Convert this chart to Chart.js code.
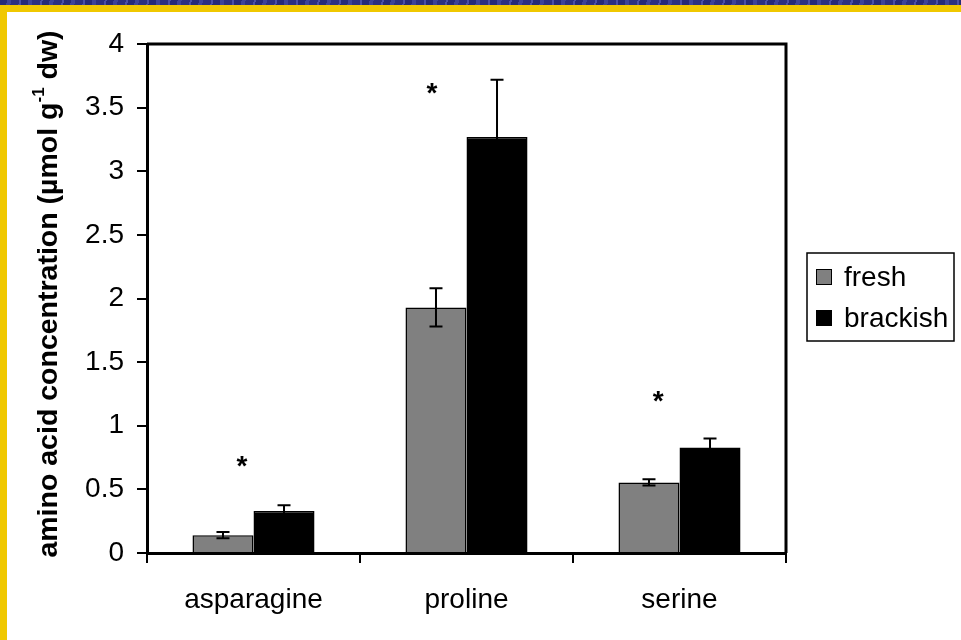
<!DOCTYPE html>
<html>
<head>
<meta charset="utf-8">
<script src="https://cdn.jsdelivr.net/npm/chart.js@4/dist/chart.umd.min.js"></script>
<style>
  html, body { margin: 0; padding: 0; width: 961px; height: 640px; overflow: hidden; }
  body {
    background: repeating-linear-gradient(100deg, #262a78 0 7px, #3d4398 7px 11px, #2c3080 11px 19px, #4a4fa6 19px 21px);
  }
  #slide {
    position: absolute; left: 0; top: 5px;
    width: 954px; height: 628px;
    border-top: 7px solid #f0c800; border-left: 7px solid #f0c800;
    background: #fff;
  }
  #wrap { position: absolute; left: 0; top: 0; width: 961px; height: 640px; }
</style>
</head>
<body>
<div id="slide"></div>
<div id="wrap"><canvas id="chart" width="961" height="640"></canvas></div>
<script>
// Amino acid concentrations (µmol g-1 dw), mean and error per treatment
const categories = ['asparagine', 'proline', 'serine'];
const seriesNames = ['fresh', 'brackish'];
const freshValues = [0.14, 1.93, 0.555];
const freshErrors = [0.025, 0.15, 0.025];
const brackishValues = [0.33, 3.27, 0.83];
const brackishErrors = [0.045, 0.45, 0.07];
const yTickLabels = ['0', '0.5', '1', '1.5', '2', '2.5', '3', '3.5', '4'];
const yMin = 0, yMax = 4, yStep = 0.5;
// significance marks: height (data units) and sideways shift (fraction of a category)
const sigLevel = [0.72, 3.65, 1.23];
const sigShift = [-0.054, -0.162, -0.10];

const FONT = '"Liberation Sans", Arial, Helvetica, sans-serif';
Chart.defaults.font.family = FONT;
Chart.defaults.color = '#000';

const errorSets = [freshErrors, brackishErrors];

const frameAndExtras = {
  id: 'frameAndExtras',
  afterDatasetsDraw(chart) {
    const ctx = chart.ctx;
    const y = chart.scales.y, x = chart.scales.x;
    ctx.save();
    // error bars
    ctx.strokeStyle = '#000';
    ctx.lineWidth = 2;
    chart.data.datasets.forEach((ds, i) => {
      const meta = chart.getDatasetMeta(i);
      meta.data.forEach((bar, j) => {
        const v = ds.data[j], e = errorSets[i][j];
        const yt = y.getPixelForValue(v + e), yb = y.getPixelForValue(v - e);
        ctx.beginPath();
        ctx.moveTo(bar.x, yt); ctx.lineTo(bar.x, yb);
        ctx.moveTo(bar.x - 6.5, yt); ctx.lineTo(bar.x + 6.5, yt);
        ctx.moveTo(bar.x - 6.5, yb); ctx.lineTo(bar.x + 6.5, yb);
        ctx.stroke();
      });
    });
    // significance asterisks
    ctx.fillStyle = '#000';
    ctx.font = 'bold 28px ' + FONT;
    ctx.textAlign = 'center';
    ctx.textBaseline = 'alphabetic';
    const m = ctx.measureText('*');
    const off = (m.actualBoundingBoxAscent - m.actualBoundingBoxDescent) / 2;
    const catW = (x.right - x.left) / categories.length;
    categories.forEach((c, j) => {
      const px = x.getPixelForValue(j) + sigShift[j] * catW;
      const py = y.getPixelForValue(sigLevel[j]);
      ctx.fillText('*', px, py + off);
    });
    // top and right edges of the plot frame
    const a = chart.chartArea;
    ctx.lineWidth = 3;
    ctx.beginPath();
    ctx.moveTo(a.left, a.top); ctx.lineTo(a.right, a.top); ctx.lineTo(a.right, a.bottom);
    ctx.stroke();
    ctx.restore();
  },
  afterDraw(chart) {
    const ctx = chart.ctx;
    ctx.save();
    // rotated y-axis title with superscript
    ctx.translate(49, 294);
    ctx.rotate(-Math.PI / 2);
    ctx.fillStyle = '#000';
    ctx.textBaseline = 'middle';
    ctx.textAlign = 'left';
    const big = 'bold 28.5px ' + FONT, small = 'bold 17px ' + FONT;
    const p1 = 'amino acid concentration (\u00b5mol g', sup = '-1', p2 = ' dw)';
    ctx.font = big; const w1 = ctx.measureText(p1).width, w3 = ctx.measureText(p2).width;
    ctx.font = small; const w2 = ctx.measureText(sup).width;
    let cx = -(w1 + w2 + w3) / 2;
    ctx.font = big; ctx.fillText(p1, cx, 0); cx += w1;
    ctx.font = small; ctx.fillText(sup, cx, -10); cx += w2;
    ctx.font = big; ctx.fillText(p2, cx, 0);
    ctx.restore();

    // legend box
    ctx.save();
    ctx.strokeStyle = '#000';
    ctx.lineWidth = 1.5;
    ctx.strokeRect(807, 253, 147, 88);
    ctx.font = '28px ' + FONT;
    ctx.textBaseline = 'middle';
    ctx.textAlign = 'left';
    chart.data.datasets.forEach((ds, i) => {
      const top = 269 + i * 41;
      ctx.fillStyle = ds.backgroundColor;
      ctx.fillRect(816, top, 16, 16);
      ctx.lineWidth = 1;
      ctx.strokeRect(816.5, top + 0.5, 15, 15);
      ctx.fillStyle = '#000';
      ctx.fillText(ds.label, 844, top + 9);
    });
    ctx.restore();
  }
};

new Chart(document.getElementById('chart'), {
  type: 'bar',
  data: {
    labels: categories,
    datasets: [
      { label: seriesNames[0], data: freshValues, backgroundColor: '#808080', borderColor: '#000', borderWidth: 1.5 },
      { label: seriesNames[1], data: brackishValues, backgroundColor: '#000000', borderColor: '#000', borderWidth: 1.5 }
    ]
  },
  options: {
    responsive: false,
    animation: false,
    events: [],
    layout: { padding: { left: 0, right: 175, top: 44, bottom: 0 } },
    datasets: { bar: { categoryPercentage: 0.573, barPercentage: 1.0 } },
    plugins: { legend: { display: false }, tooltip: { enabled: false } },
    scales: {
      x: {
        afterFit(scale) { scale.height = 87; },
        grid: { display: true, offset: true, drawOnChartArea: false, color: '#000', lineWidth: 2, tickLength: 10 },
        border: { display: true, color: '#000', width: 3 },
        ticks: { font: { size: 28 }, color: '#000', padding: 20 }
      },
      y: {
        min: yMin, max: yMax,
        afterFit(scale) { scale.width = 147; },
        grid: { drawOnChartArea: false, color: '#000', lineWidth: 2, tickLength: 10 },
        border: { display: true, color: '#000', width: 3 },
        ticks: {
          stepSize: yStep, font: { size: 28 }, color: '#000', padding: 13,
          callback: (value, index) => yTickLabels[index]
        }
      }
    }
  },
  plugins: [frameAndExtras]
});
</script>
</body>
</html>
